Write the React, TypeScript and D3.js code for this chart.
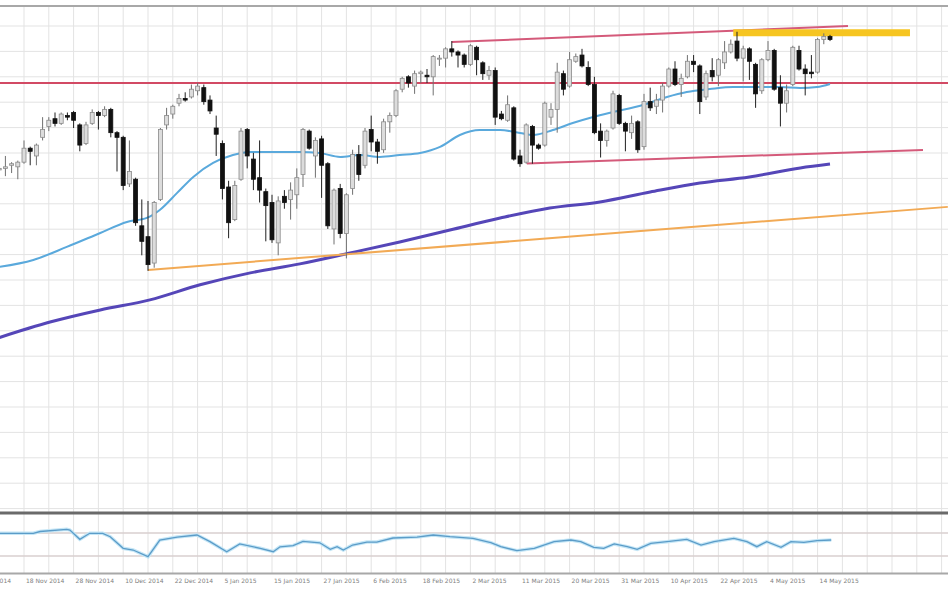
import React from "react";
import * as d3 from "d3";

// ---------- DATA ----------
const firstBar = -4; // bar index of first candle (0 = 18 Nov 2014)
const opens = [
  2037, 2038, 2040, 2039, 2042, 2051, 2046, 2058, 2065, 2070, 2067, 2072, 2074, 2066, 2054, 2067, 2074, 2072, 2076, 2061,
  2058, 2028, 2031, 2001, 1994, 1977, 2018, 2066, 2073, 2080, 2083, 2084, 2088, 2090, 2082, 2064, 2054, 2026, 2005, 2031,
  2063, 2044, 2032, 2023, 2016, 1990, 2020, 2018, 2021, 2034, 2062, 2046, 2057, 2041, 1999, 2025, 1996, 2025, 2047, 2040,
  2063, 2055, 2050, 2068, 2072, 2089, 2097, 2091, 2099, 2098, 2097, 2109, 2109, 2115, 2113, 2111, 2105, 2116, 2106, 2098,
  2101, 2073, 2069, 2077, 2046, 2042, 2065, 2053, 2053, 2071, 2076, 2099, 2091, 2107, 2111, 2103, 2092, 2062, 2056, 2064,
  2085, 2067, 2061, 2068, 2052, 2081, 2078, 2082, 2091, 2102, 2092, 2097, 2107, 2104, 2084, 2101, 2098, 2106, 2113, 2120,
  2109, 2115, 2105, 2088, 2108, 2114, 2090, 2080, 2092, 2114, 2102, 2100, 2100, 2121, 2123,
];
const highs = [
  2040, 2046, 2042, 2043, 2056, 2052, 2054, 2071, 2071, 2074, 2074, 2074, 2075, 2067, 2068, 2076, 2075, 2078, 2077, 2062,
  2059, 2056, 2032, 2018, 2017, 2017, 2064, 2077, 2079, 2086, 2087, 2092, 2093, 2092, 2085, 2072, 2056, 2030, 2030, 2064,
  2064, 2048, 2056, 2025, 2021, 2020, 2024, 2029, 2038, 2064, 2063, 2058, 2059, 2042, 2025, 2028, 2022, 2050, 2053, 2064,
  2072, 2057, 2070, 2074, 2089, 2097, 2098, 2101, 2101, 2102, 2111, 2111, 2116, 2120, 2114, 2112, 2118, 2117, 2107, 2104,
  2103, 2075, 2085, 2078, 2050, 2067, 2066, 2054, 2081, 2080, 2106, 2101, 2113, 2112, 2115, 2107, 2097, 2067, 2063, 2088,
  2086, 2068, 2072, 2069, 2086, 2090, 2086, 2093, 2103, 2107, 2099, 2111, 2111, 2105, 2101, 2109, 2109, 2120, 2121, 2126,
  2117, 2116, 2106, 2109, 2120, 2115, 2098, 2092, 2117, 2117, 2105, 2111, 2122, 2125, 2124,
];
const lows = [
  2031, 2033, 2035, 2031, 2041, 2040, 2040, 2056, 2062, 2065, 2066, 2069, 2064, 2049, 2053, 2066, 2063, 2071, 2058, 2036,
  2024, 2026, 2001, 1982, 1972, 1974, 2017, 2063, 2070, 2078, 2081, 2083, 2085, 2079, 2073, 2046, 2018, 1993, 2004, 2030,
  2038, 2024, 2016, 1991, 1990, 1982, 2012, 2005, 2012, 2026, 2050, 2032, 2019, 1999, 1989, 1993, 1980, 2021, 2030, 2038,
  2049, 2041, 2048, 2061, 2071, 2087, 2090, 2086, 2093, 2093, 2085, 2104, 2103, 2110, 2103, 2103, 2104, 2098, 2095, 2095,
  2066, 2069, 2068, 2043, 2039, 2041, 2041, 2050, 2052, 2066, 2061, 2085, 2090, 2106, 2103, 2091, 2060, 2045, 2052, 2063,
  2066, 2049, 2057, 2048, 2050, 2075, 2073, 2074, 2090, 2091, 2084, 2096, 2100, 2073, 2082, 2094, 2091, 2102, 2112, 2107,
  2094, 2095, 2077, 2086, 2107, 2088, 2065, 2074, 2091, 2101, 2085, 2096, 2099, 2118, 2120,
];
const closes = [
  2038, 2039, 2041, 2042, 2051, 2049, 2053, 2063, 2069, 2067, 2073, 2071, 2069, 2053, 2066, 2074, 2072, 2076, 2061, 2058,
  2027, 2036, 2003, 1991, 1976, 2016, 2063, 2072, 2078, 2083, 2082, 2089, 2091, 2081, 2075, 2060, 2025, 2003, 2027, 2062,
  2046, 2031, 2024, 2014, 1992, 2017, 2016, 2024, 2032, 2063, 2051, 2056, 2040, 2001, 2024, 1996, 2021, 2047, 2034, 2062,
  2055, 2049, 2068, 2072, 2088, 2096, 2093, 2099, 2100, 2097, 2110, 2109, 2115, 2113, 2111, 2105, 2117, 2108, 2099, 2101,
  2071, 2070, 2079, 2044, 2041, 2066, 2053, 2051, 2080, 2076, 2100, 2089, 2108, 2110, 2104, 2092, 2061, 2056, 2062, 2086,
  2067, 2062, 2067, 2050, 2081, 2077, 2082, 2091, 2102, 2092, 2096, 2107, 2105, 2081, 2099, 2097, 2108, 2113, 2118, 2109,
  2115, 2107, 2086, 2108, 2114, 2089, 2080, 2088, 2116, 2102, 2099, 2099, 2121, 2123, 2121,
];

// fast moving average (light blue) : bar index / price
const maFastBar = [-4, 1.5, 6.9, 12.3, 16.6, 19.8, 21.9, 24.7, 27.3, 30.5, 33.7, 36.5, 39.2, 44.5, 47.7, 51, 54.2, 57.4, 60.6, 63.9, 67.1, 70.3, 73.5, 76.8, 80, 82.1, 85.3, 88.5, 91.8, 95, 99.8, 103.7, 106.9, 110.6, 114.4, 118.2, 121.9, 125.2, 127.9, 130];
const maFastVal = [1974.5, 1979, 1987.4, 1996.4, 2003.5, 2006.1, 2011.2, 2022.2, 2032.5, 2041.5, 2046.6, 2048.6, 2048.6, 2048.6, 2047.9, 2045.4, 2046.6, 2045.4, 2046.6, 2047.9, 2051.8, 2059.5, 2062.7, 2062.7, 2060.8, 2059.5, 2062.7, 2067.2, 2071.1, 2074.3, 2078.8, 2084, 2087.2, 2089.1, 2090.4, 2090.4, 2090.4, 2089.8, 2090.4, 2092.4];

// slow moving average (purple)
const maSlowBar = [-4, 4.2, 12.3, 20.3, 28.4, 36.5, 44.5, 52.6, 60.6, 68.7, 76.8, 84.8, 92.9, 101, 109, 117, 125.2, 130];
const maSlowVal = [1929, 1939, 1946.8, 1953.3, 1963, 1970.7, 1976.5, 1983.5, 1990.6, 1998.3, 2006, 2012.5, 2016.4, 2022.8, 2028.6, 2032.5, 2038.3, 2040.8];

// oscillator in the lower panel (levels 30 / 70)
const oscBar = [-4, 1.5, 2.6, 6.9, 7.4, 9, 10.6, 12.7, 13.9, 16, 17.6, 20, 21.9, 24.7, 27.9, 30, 32.7, 34.8, 38.1, 40.2, 41.3, 43.4, 45, 47.7, 49.4, 50.5, 51.5, 53, 55.3, 56.9, 59.5, 63.4, 66, 68.7, 72.4, 75.3, 76.9, 79.5, 82.3, 85.5, 88.2, 89.8, 91.9, 93.5, 95.2, 97.3, 98.9, 101.1, 103.7, 106.9, 109.2, 111.3, 114.5, 116.6, 118.2, 119.8, 122.1, 123.7, 125.8, 127.9, 130.2];
const oscVal = [69.5, 69.5, 72.6, 76.4, 75.2, 59, 69.5, 69.5, 63.6, 43.4, 40.4, 28.8, 57.8, 63, 66.5, 54.9, 37.5, 50.9, 43.4, 37.5, 46, 48, 55.5, 53, 41.6, 46.2, 40.4, 49.1, 54.3, 54.3, 61.3, 63, 66.5, 63.6, 60.8, 53.1, 46.2, 39.2, 43.4, 54.9, 57.8, 54.9, 45.1, 43.4, 50.9, 46.2, 41.6, 52.1, 54.9, 59, 49.1, 54.9, 60.8, 54.9, 46.2, 54.9, 45.1, 54.9, 53.8, 56.6, 57.8];
const oscLevels = [70, 30];

// drawn lines: [bar, price]
const resistanceLevel = 2093;
const trendOrange = [[20, 1972.6], [149, 2013.2]];
const channelUpper = [[69, 2119.4], [132.9, 2129.7]];
const channelLower = [[81.1, 2041.2], [145, 2049.9]];
const yellowZone = [[114.4, 2125.3], [142.9, 2125.3]];

// x-axis tick labels (every 8 bars, starting at bar -8)
const tickBars = [-8, 0, 8, 16, 24, 32, 40, 48, 56, 64, 72, 80, 88, 96, 104, 112, 120, 128];
const tickLabels = [
  "6 Nov 2014", "18 Nov 2014", "28 Nov 2014", "10 Dec 2014", "22 Dec 2014", "5 Jan 2015", "15 Jan 2015",
  "27 Jan 2015", "6 Feb 2015", "18 Feb 2015", "2 Mar 2015", "11 Mar 2015", "20 Mar 2015", "31 Mar 2015",
  "10 Apr 2015", "22 Apr 2015", "4 May 2015", "14 May 2015",
];

// ---------- LAYOUT ----------
const W = 948;
const H = 593;
const mainTop = 6;
const mainBottom = 513;
const oscBottom = 573.5;

export default function App() {
  const x = d3.scaleLinear().domain([0, 1]).range([24, 30.2]);
  const y = d3.scaleLinear().domain([1816, 2142.6]).range([mainBottom, mainTop]);
  const yo = d3.scaleLinear().domain([30, 70]).range([556, 533]);

  const vGrid = d3.range(-1, 38).map((k) => x(k * 4));
  const hGrid = d3.range(-10, 10).map((k) => 280 + k * 25.4).filter((v) => v > mainTop + 3 && v < mainBottom - 2);

  const line = d3.line<[number, number]>().x((d) => x(d[0])).y((d) => y(d[1]));
  const smooth = d3.line<[number, number]>().x((d) => x(d[0])).y((d) => y(d[1])).curve(d3.curveMonotoneX);
  const oscLine = d3.line<[number, number]>().x((d) => x(d[0])).y((d) => yo(d[1])).curve(d3.curveLinear);

  const fast = maFastBar.map((b, i) => [b, maFastVal[i]] as [number, number]);
  const slow = maSlowBar.map((b, i) => [b, maSlowVal[i]] as [number, number]);
  const osc = oscBar.map((b, i) => [b, oscVal[i]] as [number, number]);

  const bodyW = 4;

  return (
    <svg
      width={W}
      height={H}
      style={{ position: "absolute", left: 0, top: 0, background: "#ffffff" }}
      fontFamily="DejaVu Sans, sans-serif"
    >
      <rect x={0} y={0} width={W} height={H} fill="#ffffff" />
      {/* grid */}
      <g stroke="#e3e3e3" strokeWidth={1}>
        {vGrid.map((gx, i) => (
          <line key={"v" + i} x1={gx} x2={gx} y1={mainTop} y2={oscBottom} />
        ))}
        {hGrid.map((gy, i) => (
          <line key={"h" + i} x1={0} x2={W} y1={gy} y2={gy} />
        ))}
      </g>
      {/* frame */}
      <line x1={0} x2={W} y1={mainTop} y2={mainTop} stroke="#a8a8a8" strokeWidth={2} />
      <line x1={0} x2={W} y1={mainBottom} y2={mainBottom} stroke="#6a6a6a" strokeWidth={3} />
      <line x1={0} x2={W} y1={oscBottom} y2={oscBottom} stroke="#a8a8a8" strokeWidth={2} />

      {/* moving averages and drawn lines under candles */}
      <path d={smooth(slow) || ""} fill="none" stroke="#5546b8" strokeWidth={3} />
      <path d={line(trendOrange as [number, number][]) || ""} fill="none" stroke="#f2aa55" strokeWidth={2} />
      <line x1={0} x2={W} y1={y(resistanceLevel)} y2={y(resistanceLevel)} stroke="#d24a64" strokeWidth={2} />
      <path d={line(channelUpper as [number, number][]) || ""} fill="none" stroke="#d45a7a" strokeWidth={2} />
      <path d={line(channelLower as [number, number][]) || ""} fill="none" stroke="#d45a7a" strokeWidth={2} />
      <path d={smooth(fast) || ""} fill="none" stroke="#5aa9dc" strokeWidth={2} />
      <path d={line(yellowZone as [number, number][]) || ""} fill="none" stroke="#f6c521" strokeWidth={7} />

      {/* candles */}
      <g>
        {opens.map((o, k) => {
          const b = firstBar + k;
          const cx = x(b);
          const c = closes[k];
          const bull = c >= o;
          const top = y(Math.max(o, c));
          const bot = y(Math.min(o, c));
          return (
            <g key={k}>
              <line x1={cx} x2={cx} y1={y(highs[k])} y2={y(lows[k])} stroke={bull ? "#707070" : "#202020"} strokeWidth={1} />
              <rect
                x={cx - bodyW / 2}
                y={top}
                width={bodyW}
                height={Math.max(1, bot - top)}
                fill={bull ? "#dcdcdc" : "#111111"}
                stroke={bull ? "#8a8a8a" : "#111111"}
                strokeWidth={0.8}
              />
            </g>
          );
        })}
      </g>

      {/* oscillator panel */}
      <g stroke="#d9cfcf" strokeWidth={1.5}>
        {oscLevels.map((lv, i) => (
          <line key={i} x1={0} x2={W} y1={yo(lv)} y2={yo(lv)} />
        ))}
      </g>
      <path d={oscLine(osc) || ""} fill="none" stroke="#c5e6f6" strokeWidth={3.5} />
      <path d={oscLine(osc) || ""} fill="none" stroke="#5b9cc8" strokeWidth={1.3} />

      {/* x-axis labels */}
      <g fontSize={6} fill="#808080">
        {tickBars.map((tb, i) => (
          <text key={i} x={x(tb) + 2} y={583}>
            {tickLabels[i]}
          </text>
        ))}
      </g>
    </svg>
  );
}
